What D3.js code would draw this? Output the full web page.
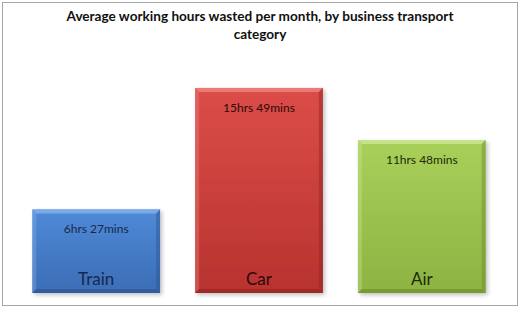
<!DOCTYPE html>
<html>
<head>
<meta charset="utf-8">
<script src="https://cdn.jsdelivr.net/npm/d3@7"></script>
<style>
  body { margin: 0; background: #fff; }
  svg { display: block; }
</style>
</head>
<body>
<div id="main-container"></div>
<script>
// DATA
const categories = ["Train", "Car", "Air"];
const hoursWasted = [6.45, 15.82, 11.8];
const valueLabels = ["6hrs 27mins", "15hrs 49mins", "11hrs 48mins"];
const titleLines = ["Average working hours wasted per month, by business transport", "category"];

// CONSTANTS
const width = 520, height = 309;
const colours = [
    {top: "#4f8ad8", bottom: "#3b6db4", light: "#8ab4ec", dark: "#2c548e", text: "#17284a"},
    {top: "#dc4d48", bottom: "#b8332f", light: "#ee8a86", dark: "#8e2422", text: "#2a0808"},
    {top: "#a8d05a", bottom: "#8db342", light: "#cfe79a", dark: "#6a8a2e", text: "#1e2a08"}
];

const data = categories.map((c, i) => ({cat: c, value: hoursWasted[i], label: valueLabels[i], col: colours[i], i: i}));

let svg = d3.select("#main-container")
    .append("svg")
        .attr("width", width)
        .attr("height", height);

// outer frame
svg.append("rect")
    .attr("x", 2.5).attr("y", 2.5)
    .attr("width", 515).attr("height", 303)
    .attr("fill", "#fff")
    .attr("stroke", "#a6a6a6");

const defs = svg.append("defs");
data.forEach(d => {
    let g = defs.append("linearGradient")
        .attr("id", `grad${d.i}`)
        .attr("x1", 0).attr("y1", 0).attr("x2", 0).attr("y2", 1);
    g.append("stop").attr("offset", "0%").attr("stop-color", d.col.top);
    g.append("stop").attr("offset", "100%").attr("stop-color", d.col.bottom);
});
let shadow = defs.append("filter").attr("id", "shadow")
    .attr("x", "-10%").attr("y", "-10%").attr("width", "130%").attr("height", "130%");
shadow.append("feGaussianBlur").attr("in", "SourceAlpha").attr("stdDeviation", 2);
shadow.append("feOffset").attr("dx", 2).attr("dy", 2).attr("result", "b");
shadow.append("feComponentTransfer").append("feFuncA").attr("type", "linear").attr("slope", 0.25);
let merge = shadow.append("feMerge");
merge.append("feMergeNode");
merge.append("feMergeNode").attr("in", "SourceGraphic");

let xAxis = d3.scaleBand()
    .range([16, 502])
    .domain(categories)
    .paddingInner(0.215)
    .paddingOuter(0.1);

let yAxis = d3.scaleLinear()
    .domain([0, 16])
    .range([293, 85.6]);

// title
svg.append("text")
    .attr("x", width / 2)
    .attr("y", 21)
    .attr("text-anchor", "middle")
    .style("font-family", "Lato, 'Open Sans', sans-serif")
    .style("font-weight", "bold")
    .style("font-size", "13.6px")
    .style("fill", "#111")
    .selectAll("tspan")
    .data(titleLines)
    .enter()
    .append("tspan")
        .attr("x", width / 2)
        .attr("dy", (d, i) => i === 0 ? 0 : 18)
        .text(d => d);

let bars = svg.selectAll(".bar")
    .data(data)
    .enter()
    .append("g")
        .attr("class", "bar");

bars.append("rect")
    .attr("x", d => xAxis(d.cat))
    .attr("y", d => yAxis(d.value))
    .attr("width", xAxis.bandwidth())
    .attr("height", d => yAxis(0) - yAxis(d.value))
    .attr("fill", d => `url(#grad${d.i})`)
    .attr("filter", "url(#shadow)");

// bevel: top and left light, right and bottom dark
const bev = 4;
bars.append("polygon")
    .attr("points", d => {
        let x0 = xAxis(d.cat), x1 = x0 + xAxis.bandwidth(), y0 = yAxis(d.value);
        return [[x0, y0], [x1, y0], [x1 - bev, y0 + bev], [x0 + bev, y0 + bev]].join(" ");
    })
    .attr("fill", d => d.col.light)
    .attr("opacity", 0.75);

bars.append("polygon")
    .attr("points", d => {
        let x0 = xAxis(d.cat), y0 = yAxis(d.value), y1 = yAxis(0);
        return [[x0, y0], [x0 + bev, y0 + bev], [x0 + bev, y1 - bev], [x0, y1]].join(" ");
    })
    .attr("fill", d => d.col.light)
    .attr("opacity", 0.35);

bars.append("polygon")
    .attr("points", d => {
        let x1 = xAxis(d.cat) + xAxis.bandwidth(), y0 = yAxis(d.value), y1 = yAxis(0);
        return [[x1, y0], [x1, y1], [x1 - bev, y1 - bev], [x1 - bev, y0 + bev]].join(" ");
    })
    .attr("fill", d => d.col.dark)
    .attr("opacity", 0.45);

bars.append("polygon")
    .attr("points", d => {
        let x0 = xAxis(d.cat), x1 = x0 + xAxis.bandwidth(), y1 = yAxis(0);
        return [[x0, y1], [x0 + bev, y1 - bev], [x1 - bev, y1 - bev], [x1, y1]].join(" ");
    })
    .attr("fill", d => d.col.dark)
    .attr("opacity", 0.6);

// value labels
bars.append("text")
    .attr("x", d => xAxis(d.cat) + xAxis.bandwidth() / 2)
    .attr("y", d => yAxis(d.value) + 24)
    .attr("text-anchor", "middle")
    .style("font-family", "Lato, 'Open Sans', sans-serif")
    .style("font-size", "12px")
    .style("fill", d => d.col.text)
    .text(d => d.label);

// category labels
bars.append("text")
    .attr("x", d => xAxis(d.cat) + xAxis.bandwidth() / 2)
    .attr("y", yAxis(0) - 8)
    .attr("text-anchor", "middle")
    .style("font-family", "Lato, 'Open Sans', sans-serif")
    .style("font-size", "17px")
    .style("fill", d => d.col.text)
    .text(d => d.cat);
</script>
</body>
</html>
